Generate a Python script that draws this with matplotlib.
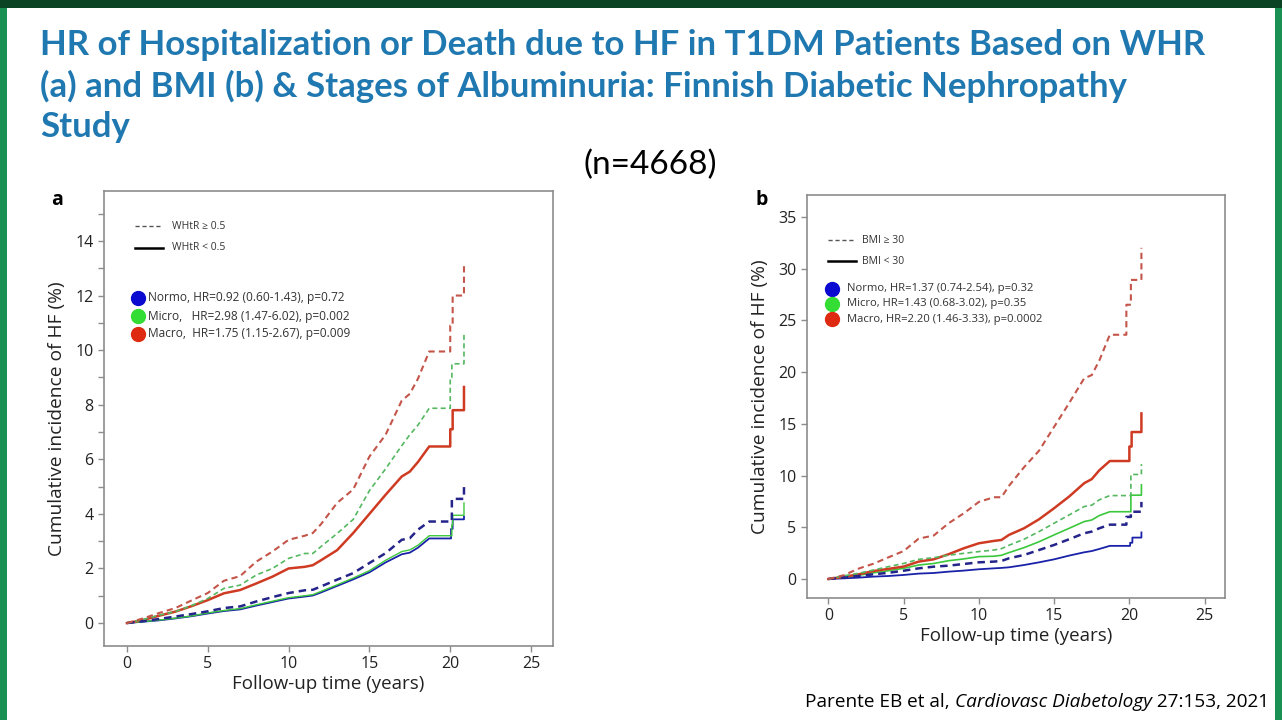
import matplotlib.pyplot as plt
from matplotlib.lines import Line2D
from matplotlib.patches import Rectangle
from matplotlib.ticker import MultipleLocator

# common time grid (years) for the smooth part of every curve
T = [0, 1, 2, 3, 4, 5, 6, 7, 8, 9, 10, 11, 11.5, 12, 13, 14, 15, 16, 17, 17.5, 18, 18.7]

# panel a: WHtR >= 0.5 (dashed) / < 0.5 (solid)
a_macro_hi = [0, 0.17, 0.37, 0.55, 0.83, 1.1, 1.55, 1.72, 2.25, 2.62, 3.05, 3.2, 3.3, 3.62, 4.4, 4.9, 6.1, 6.9, 8.15, 8.4, 8.95, 9.95]
a_macro_hi_tx = [20.0, 20.0, 20.15, 20.15, 20.85, 20.85]
a_macro_hi_ty = [9.95, 10.9, 10.9, 12.0, 12.0, 13.2]
a_micro_hi = [0, 0.13, 0.29, 0.42, 0.64, 0.9, 1.27, 1.39, 1.76, 2.0, 2.37, 2.55, 2.55, 2.8, 3.28, 3.8, 4.85, 5.65, 6.5, 6.9, 7.25, 7.87]
a_micro_hi_tx = [20.0, 20.0, 20.1, 20.1, 20.85, 20.85]
a_micro_hi_ty = [7.87, 9.0, 9.0, 9.5, 9.5, 10.6]
a_normo_hi = [0, 0.07, 0.15, 0.24, 0.33, 0.43, 0.55, 0.61, 0.79, 0.95, 1.1, 1.2, 1.22, 1.34, 1.59, 1.83, 2.2, 2.56, 3.05, 3.11, 3.42, 3.72]
a_normo_hi_tx = [20.1, 20.1, 20.85, 20.85]
a_normo_hi_ty = [3.72, 4.55, 4.55, 5.05]
a_macro_lo = [0, 0.11, 0.27, 0.42, 0.62, 0.84, 1.09, 1.21, 1.45, 1.7, 2.0, 2.06, 2.12, 2.3, 2.67, 3.3, 4.0, 4.7, 5.37, 5.55, 5.9, 6.47]
a_macro_lo_tx = [20.0, 20.0, 20.15, 20.15, 20.85, 20.85]
a_macro_lo_ty = [6.47, 7.1, 7.1, 7.8, 7.8, 8.65]
a_micro_lo = [0, 0.05, 0.11, 0.18, 0.26, 0.37, 0.46, 0.53, 0.67, 0.8, 0.93, 1.0, 1.04, 1.16, 1.4, 1.65, 1.92, 2.3, 2.62, 2.68, 2.85, 3.2]
a_micro_lo_tx = [20.1, 20.1, 20.15, 20.15, 20.85, 20.85]
a_micro_lo_ty = [3.2, 3.6, 3.6, 3.95, 3.95, 4.4]
a_normo_lo = [0, 0.05, 0.1, 0.17, 0.25, 0.35, 0.44, 0.5, 0.64, 0.77, 0.9, 0.97, 1.01, 1.12, 1.36, 1.6, 1.86, 2.22, 2.52, 2.58, 2.76, 3.1]
a_normo_lo_tx = [20.05, 20.05, 20.15, 20.15, 20.85, 20.85]
a_normo_lo_ty = [3.1, 3.45, 3.45, 3.8, 3.8, 3.9]

# panel b: BMI >= 30 (dashed) / < 30 (solid)
b_macro_hi = [0, 0.35, 1.0, 1.48, 2.1, 2.7, 3.9, 4.2, 5.4, 6.35, 7.45, 7.9, 7.9, 9.0, 10.8, 12.4, 14.7, 17.0, 19.4, 19.7, 21.1, 23.6]
b_macro_hi_tx = [19.8, 19.8, 20.1, 20.1, 20.8, 20.8]
b_macro_hi_ty = [23.6, 26.5, 26.5, 28.9, 28.9, 32.0]
b_micro_hi = [0, 0.3, 0.55, 0.87, 1.2, 1.5, 1.9, 2.06, 2.3, 2.48, 2.65, 2.8, 2.93, 3.26, 3.84, 4.58, 5.39, 6.19, 7.0, 7.13, 7.65, 8.06]
b_micro_hi_tx = [20.1, 20.1, 20.8, 20.8]
b_micro_hi_ty = [8.06, 10.1, 10.1, 11.1]
b_normo_hi = [0, 0.16, 0.29, 0.45, 0.6, 0.8, 1.03, 1.19, 1.29, 1.45, 1.61, 1.68, 1.74, 2.0, 2.32, 2.8, 3.29, 3.84, 4.42, 4.58, 4.9, 5.25]
b_normo_hi_tx = [19.8, 19.8, 20.1, 20.1, 20.8, 20.8]
b_normo_hi_ty = [5.25, 6.0, 6.0, 6.5, 6.5, 7.45]
b_macro_lo = [0, 0.2, 0.45, 0.77, 0.98, 1.2, 1.68, 1.9, 2.4, 2.97, 3.45, 3.68, 3.77, 4.26, 4.9, 5.77, 6.84, 7.97, 9.26, 9.65, 10.5, 11.4]
b_macro_lo_tx = [20.0, 20.0, 20.15, 20.15, 20.8, 20.8]
b_macro_lo_ty = [11.4, 12.8, 12.8, 14.2, 14.2, 16.0]
b_micro_lo = [0, 0.2, 0.35, 0.6, 0.8, 1.03, 1.35, 1.5, 1.77, 1.94, 2.16, 2.2, 2.29, 2.55, 3.03, 3.6, 4.26, 4.9, 5.55, 5.7, 6.13, 6.5]
b_micro_lo_tx = [20.1, 20.1, 20.8, 20.8]
b_micro_lo_ty = [6.5, 8.1, 8.1, 9.1]
b_normo_lo = [0, 0.06, 0.13, 0.23, 0.29, 0.39, 0.52, 0.58, 0.71, 0.81, 0.94, 1.03, 1.07, 1.13, 1.35, 1.61, 1.9, 2.26, 2.58, 2.7, 2.9, 3.2]
b_normo_lo_tx = [20.05, 20.05, 20.2, 20.2, 20.8, 20.8]
b_normo_lo_ty = [3.2, 3.5, 3.5, 4.0, 4.0, 4.5]

a_hr = ["Normo, HR=0.92 (0.60-1.43), p=0.72",
        "Micro,   HR=2.98 (1.47-6.02), p=0.002",
        "Macro,  HR=1.75 (1.15-2.67), p=0.009"]
b_hr = ["Normo, HR=1.37 (0.74-2.54), p=0.32",
        "Micro, HR=1.43 (0.68-3.02), p=0.35",
        "Macro, HR=2.20 (1.46-3.33), p=0.0002"]

RED = "#cf3b22"
GREEN = "#3cc83c"
BLUE = "#1a22a8"
RED_D = "#c4554a"
GREEN_D = "#55b860"
BLUE_D = "#24248a"

plt.rcParams["font.family"] = ["Open Sans", "DejaVu Sans"]

fig = plt.figure(figsize=(12.82, 7.2), dpi=100)
fig.patch.set_facecolor("#1a9052")
fig.add_artist(Rectangle((0, 1 - 8 / 720), 1, 8 / 720, transform=fig.transFigure,
                         facecolor="#0a4425", edgecolor="none", zorder=0))
fig.add_artist(Rectangle((7 / 1282, 0), 1268 / 1282, 712 / 720, transform=fig.transFigure,
                         facecolor="white", edgecolor="none", zorder=0))


def curve(ax, y, tx, ty, color, dashed, lw):
    xs = T + tx
    ys = y + ty
    if dashed:
        ax.plot(xs, ys, color=color, lw=lw, ls=(0, (3, 2)))
    else:
        ax.plot(xs, ys, color=color, lw=lw)


def style_axes(ax, ystep, ylim):
    ax.set_xlim(-1.42, 26.36)
    ax.set_ylim(*ylim)
    ax.yaxis.set_major_locator(MultipleLocator(ystep))
    ax.set_xticks(range(0, 26, 5))
    for s in ax.spines.values():
        s.set_color("#8c8c8c")
        s.set_linewidth(1.2)
    ax.tick_params(colors="#8c8c8c", labelcolor="#222222", labelsize=11.5, length=4, width=1)
    ax.set_xlabel("Follow-up time (years)", fontsize=13.5, color="#222222", labelpad=2)
    ax.set_ylabel("Cumulative incidence of HF (%)", fontsize=13.8, color="#222222", labelpad=7)


# ---- panel a
ax1 = fig.add_axes([0.0811, 0.1028, 0.3503, 0.6319])
curve(ax1, a_normo_lo, a_normo_lo_tx, a_normo_lo_ty, BLUE, False, 1.3)
curve(ax1, a_micro_lo, a_micro_lo_tx, a_micro_lo_ty, GREEN, False, 1.0)
curve(ax1, a_macro_lo, a_macro_lo_tx, a_macro_lo_ty, RED, False, 1.8)
curve(ax1, a_normo_hi, a_normo_hi_tx, a_normo_hi_ty, BLUE_D, True, 1.8)
curve(ax1, a_micro_hi, a_micro_hi_tx, a_micro_hi_ty, GREEN_D, True, 1.2)
curve(ax1, a_macro_hi, a_macro_hi_tx, a_macro_hi_ty, RED_D, True, 1.5)
style_axes(ax1, 2, (-0.84, 15.83))
ax1.set_yticks(range(0, 15, 2))
ax1.yaxis.set_minor_locator(MultipleLocator(1))
ax1.tick_params(which="minor", colors="#8c8c8c", length=4, width=1)

ax1.add_line(Line2D([0.069, 0.129], [0.923, 0.923], transform=ax1.transAxes, color="#555555", lw=1, ls=(0, (3, 2))))
ax1.add_line(Line2D([0.069, 0.131], [0.875, 0.875], transform=ax1.transAxes, color="black", lw=1.8))
ax1.text(0.151, 0.923, "WHtR ≥ 0.5", transform=ax1.transAxes, fontsize=7.5, va="center", color="#333333")
ax1.text(0.151, 0.875, "WHtR < 0.5", transform=ax1.transAxes, fontsize=7.5, va="center", color="#333333")
for yy, lab, c in zip([0.765, 0.725, 0.686], a_hr, ["#0a0ad0", "#33dd33", "#dd2a10"]):
    ax1.plot([0.0757], [yy], "o", ms=10, color=c, transform=ax1.transAxes, clip_on=False)
    ax1.text(0.099, yy, lab, transform=ax1.transAxes, fontsize=8.6, va="center", color="#333333")
fig.text(57 / 1282, 1 - 200 / 720, "a", fontsize=14, fontweight="bold", ha="center", va="center")

# ---- panel b
ax2 = fig.add_axes([0.6295, 0.1694, 0.3261, 0.5597])
curve(ax2, b_normo_lo, b_normo_lo_tx, b_normo_lo_ty, BLUE, False, 1.3)
curve(ax2, b_micro_lo, b_micro_lo_tx, b_micro_lo_ty, GREEN, False, 1.2)
curve(ax2, b_macro_lo, b_macro_lo_tx, b_macro_lo_ty, RED, False, 1.8)
curve(ax2, b_normo_hi, b_normo_hi_tx, b_normo_hi_ty, BLUE_D, True, 1.8)
curve(ax2, b_micro_hi, b_micro_hi_tx, b_micro_hi_ty, GREEN_D, True, 1.2)
curve(ax2, b_macro_hi, b_macro_hi_tx, b_macro_hi_ty, RED_D, True, 1.5)
style_axes(ax2, 5, (-1.84, 37.1))
ax2.set_yticks(range(0, 36, 5))

ax2.add_line(Line2D([0.050, 0.115], [0.888, 0.888], transform=ax2.transAxes, color="#555555", lw=1, ls=(0, (3, 2))))
ax2.add_line(Line2D([0.050, 0.117], [0.836, 0.836], transform=ax2.transAxes, color="black", lw=1.8))
ax2.text(0.132, 0.888, "BMI ≥ 30", transform=ax2.transAxes, fontsize=7.5, va="center", color="#333333")
ax2.text(0.132, 0.836, "BMI < 30", transform=ax2.transAxes, fontsize=7.5, va="center", color="#333333")
for yy, lab, c in zip([0.767, 0.730, 0.692], b_hr, ["#0a0ad0", "#33dd33", "#dd2a10"]):
    ax2.plot([0.060], [yy], "o", ms=10, color=c, transform=ax2.transAxes, clip_on=False)
    ax2.text(0.096, yy, lab, transform=ax2.transAxes, fontsize=8.1, va="center", color="#333333")
fig.text(762 / 1282, 1 - 200 / 720, "b", fontsize=14, fontweight="bold", ha="center", va="center")

# ---- slide texts
title = ("HR of Hospitalization or Death due to HF in T1DM Patients Based on WHR\n"
         "(a) and BMI (b) & Stages of Albuminuria: Finnish Diabetic Nephropathy\n"
         "Study")
fig.text(40 / 1282, 1 - 29 / 720, title, fontsize=25, fontweight="bold", color="#1f78b0",
         family=["Lato", "DejaVu Sans"], va="top", ha="left", linespacing=1.31)
fig.text(650 / 1282, 1 - 165 / 720, "(n=4668)", fontsize=24, color="black",
         family=["Lato", "DejaVu Sans"], ha="center", va="center")

c1 = fig.text(805 / 1282, 1 - 702 / 720, "Parente EB et al, ", fontsize=13.7, va="center",
              family=["Open Sans", "DejaVu Sans"])
c2 = fig.text(0, 0, "Cardiovasc Diabetology", fontsize=13.7, style="italic", va="center",
              family=["Open Sans", "DejaVu Sans"])
c3 = fig.text(0, 0, " 27:153, 2021", fontsize=13.7, va="center", family=["Open Sans", "DejaVu Sans"])
fig.canvas.draw()
r = fig.canvas.get_renderer()
bb1 = c1.get_window_extent(r)
c2.set_position((bb1.x1 / fig.bbox.width, 1 - 702 / 720))
bb2 = c2.get_window_extent(r)
c3.set_position((bb2.x1 / fig.bbox.width, 1 - 702 / 720))

fig.savefig("out.png", dpi=100, facecolor=fig.get_facecolor())
